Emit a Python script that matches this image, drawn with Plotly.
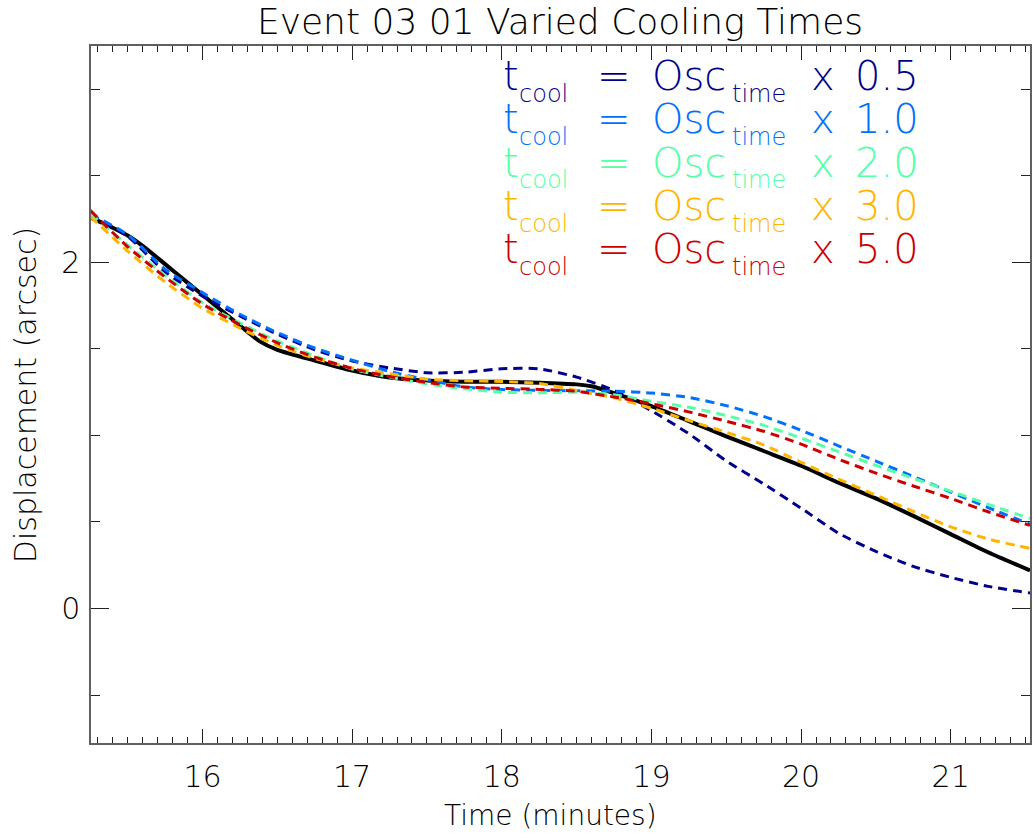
import plotly.graph_objects as go

# ---- data -------------------------------------------------------------
# observed displacement (black solid line)
t_obs = [15.25, 15.4, 15.5, 15.6, 15.75, 15.9, 16.0, 16.15, 16.3, 16.38, 16.5,
         16.75, 17.0, 17.25, 17.5, 17.75, 18.0, 18.25, 18.5, 18.6, 18.75, 19.0,
         19.25, 19.5, 19.75, 20.0, 20.25, 20.5, 20.75, 21.0, 21.25, 21.53]
disp_obs = [2.26, 2.20, 2.155, 2.095, 1.99, 1.883, 1.812, 1.706, 1.60, 1.545, 1.495,
            1.433, 1.375, 1.335, 1.317, 1.31, 1.31, 1.305, 1.295, 1.284, 1.245, 1.17,
            1.083, 0.995, 0.91, 0.825, 0.727, 0.636, 0.535, 0.43, 0.325, 0.22]

# model curves for different cooling-time factors
t_model = [15.25, 15.5, 15.75, 16.0, 16.25, 16.5, 16.75, 17.0, 17.25, 17.5, 17.75,
           18.0, 18.25, 18.5, 18.75, 19.0, 19.25, 19.5, 19.75, 20.0, 20.25, 20.5,
           20.75, 21.0, 21.25, 21.53]
disp_x05 = [2.27, 2.15, 1.945, 1.805, 1.69, 1.585, 1.495, 1.43, 1.39, 1.362, 1.365,
            1.385, 1.385, 1.337, 1.26, 1.143, 1.01, 0.853, 0.72, 0.58, 0.435, 0.33,
            0.243, 0.18, 0.128, 0.09]
disp_x10 = [2.28, 2.16, 1.96, 1.825, 1.70, 1.594, 1.505, 1.435, 1.37, 1.322, 1.28,
            1.265, 1.26, 1.258, 1.256, 1.245, 1.22, 1.172, 1.11, 1.03, 0.94, 0.852,
            0.763, 0.673, 0.583, 0.487]
disp_x20 = [2.28, 2.10, 1.925, 1.767, 1.65, 1.545, 1.46, 1.383, 1.337, 1.297, 1.27,
            1.25, 1.246, 1.25, 1.235, 1.197, 1.163, 1.115, 1.058, 0.985, 0.906, 0.827,
            0.752, 0.678, 0.602, 0.52]
disp_x30 = [2.265, 2.065, 1.886, 1.735, 1.62, 1.52, 1.445, 1.39, 1.357, 1.325, 1.316,
            1.312, 1.30, 1.26, 1.217, 1.157, 1.086, 1.018, 0.945, 0.845, 0.748, 0.655,
            0.561, 0.472, 0.402, 0.347]
disp_x50 = [2.30, 2.09, 1.915, 1.759, 1.64, 1.535, 1.452, 1.387, 1.34, 1.306, 1.28,
            1.272, 1.266, 1.255, 1.222, 1.183, 1.136, 1.082, 1.024, 0.95, 0.863, 0.782,
            0.708, 0.636, 0.559, 0.48]

factor_labels = ["0.5", "1.0", "2.0", "3.0", "5.0"]
model_series = [disp_x05, disp_x10, disp_x20, disp_x30, disp_x50]
model_colors = ["#00008c", "#0070ff", "#55ffa5", "#ffb400", "#cc0000"]

# ---- style ------------------------------------------------------------
FONT = "DejaVu Sans"
WEIGHT = 200
W, H = 1033, 837
L, R, T, B = 91, 1, 46, 94
PW, PH = W - L - R, H - T - B


def px_x(px):
    return (px - L) / PW


def px_y(py):
    return (H - B - py) / PH


fig = go.Figure()

fig.add_trace(go.Scatter(
    x=t_obs, y=disp_obs, mode="lines",
    line=dict(color="black", width=4, shape="spline", smoothing=0.6),
    hoverinfo="skip"))

for ys, col in zip(model_series, model_colors):
    fig.add_trace(go.Scatter(
        x=t_model, y=ys, mode="lines",
        line=dict(color=col, width=3, dash="9px,6px", shape="spline", smoothing=0.6),
        hoverinfo="skip"))

# ---- legend text built from the factor list ----------------------------
annotations = []
main_size, sub_size = 40, 24
for i, (lab, col) in enumerate(zip(factor_labels, model_colors)):
    base = 90 + i * 43.3
    y_main = base - 0.346 * main_size
    y_sub = base + 12 - 0.346 * sub_size
    pieces = [
        ("t", 502, y_main, main_size),
        ("cool", 518, y_sub, sub_size),
        ("=", 596, y_main, main_size),
        ("Osc", 651, y_main, main_size),
        ("time", 731, y_sub, sub_size),
        ("x", 811, y_main, main_size),
        (lab, 855, y_main, main_size),
    ]
    for txt, x0, y0, sz in pieces:
        annotations.append(dict(
            text=txt, x=px_x(x0), y=px_y(y0), xref="paper", yref="paper",
            xanchor="left", yanchor="middle", showarrow=False,
            font=dict(family=FONT, size=sz, color=col, weight=WEIGHT)))

# axis titles
annotations.append(dict(
    text="Time (minutes)", x=px_x(551), y=px_y(815), xref="paper", yref="paper",
    xanchor="center", yanchor="middle", showarrow=False,
    font=dict(family=FONT, size=28, color="black", weight=WEIGHT)))
annotations.append(dict(
    text="Displacement (arcsec)", x=px_x(25), y=px_y(395), xref="paper", yref="paper",
    xanchor="center", yanchor="middle", showarrow=False, textangle=-90,
    font=dict(family=FONT, size=30, color="black", weight=WEIGHT)))

axis_common = dict(
    showline=True, linecolor="#606060", linewidth=1.5, mirror="allticks",
    ticks="inside", tickcolor="#222222", tickwidth=1.3,
    showgrid=False, zeroline=False,
    tickfont=dict(family=FONT, size=30, color="black", weight=WEIGHT),
)

fig.update_layout(
    width=W, height=H, autosize=False,
    margin=dict(l=L, r=R, t=T, b=B, pad=0),
    paper_bgcolor="white", plot_bgcolor="white",
    showlegend=False,
    title=dict(text="Event 03 01 Varied Cooling Times",
               x=560 / W, xanchor="center", xref="container",
               y=1 - 21 / H, yanchor="middle", yref="container",
               font=dict(family=FONT, size=36, color="black", weight=WEIGHT)),
    xaxis=dict(range=[15.255, 21.53], tick0=0, dtick=1, ticklen=14,
               ticklabelstandoff=6,
               minor=dict(ticks="inside", ticklen=6, tick0=0, dtick=0.1,
                          tickcolor="#222222", tickwidth=1.2, showgrid=False),
               **axis_common),
    yaxis=dict(range=[-0.777, 3.25], tick0=0, dtick=2, ticklen=18,
               ticklabelstandoff=3,
               minor=dict(ticks="inside", ticklen=9, tick0=0, dtick=0.5,
                          tickcolor="#222222", tickwidth=1.2, showgrid=False),
               **axis_common),
    annotations=annotations,
)

fig.write_html("out.html")
